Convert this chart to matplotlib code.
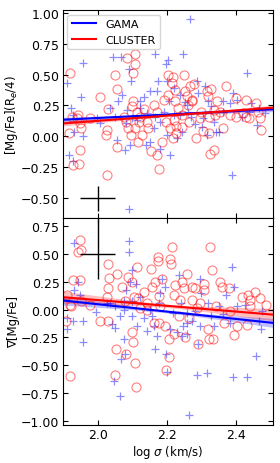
#Mg/Fe versus velocity dispersion, GAMA vs CLUSTER
import matplotlib.pyplot as plt
import numpy as np

# top panel: [Mg/Fe](Re/4)
gama_top_x = [2.265, 1.911, 1.957, 1.952, 1.916, 1.930, 1.924, 1.928, 1.933, 1.958,
              2.044, 2.067, 2.089, 2.097, 2.070, 2.060, 2.085, 2.051, 2.056, 2.080,
              2.094, 2.091, 2.164, 2.197, 2.203, 2.175, 2.200, 2.152, 2.171, 2.135,
              2.121, 2.123, 2.142, 2.166, 2.190, 2.181, 2.162, 2.152, 2.138, 2.181,
              2.210, 2.245, 2.219, 2.238, 2.252, 2.262, 2.270, 2.287, 2.309, 2.290,
              2.317, 2.327, 2.305, 2.282, 2.300, 2.315, 2.340, 2.335, 2.350, 2.362,
              2.363, 2.383, 2.390, 2.402, 2.431, 2.436, 2.415, 2.442, 2.466, 2.461,
              2.482, 2.388, 2.229, 2.243, 2.200, 2.100, 2.113, 2.037, 2.008, 1.998,
              2.083, 2.205, 2.219, 2.238, 2.257]
gama_top_y = [0.948, 0.432, 0.590, 0.315, -0.147, -0.200, 0.228, 0.174, 0.038, 0.003,
              0.644, 0.641, 0.541, 0.446, 0.337, 0.283, 0.215, 0.160, -0.030, -0.110,
              -0.070, -0.587, 0.668, 0.581, 0.614, 0.451, 0.446, 0.364, 0.370, 0.315,
              0.283, 0.228, 0.187, 0.160, 0.201, 0.120, 0.065, -0.043, -0.070, -0.098,
              -0.152, 0.668, 0.391, 0.331, 0.277, 0.201, 0.160, 0.446, 0.405, 0.350,
              0.283, 0.242, 0.147, 0.098, 0.079, 0.011, 0.033, 0.120, 0.038, 0.283,
              0.201, 0.269, 0.350, 0.296, 0.511, 0.201, 0.160, 0.269, 0.228, 0.092,
              0.187, -0.315, -0.016, 0.038, 0.011, 0.147, 0.133, 0.228, 0.106, 0.147,
              0.106, 0.283, 0.174, 0.174, 0.255]
clus_top_x = [1.921, 1.916, 1.926, 1.942, 1.940, 1.930, 1.947, 1.950, 1.950, 1.953,
              1.979, 2.008, 2.027, 2.025, 2.029, 2.027, 2.051, 2.056, 2.057, 2.085,
              2.109, 2.107, 2.102, 2.102, 2.100, 2.075, 2.083, 2.087, 2.097, 2.109,
              2.114, 2.117, 2.119, 2.123, 2.133, 2.142, 2.146, 2.153, 2.171, 2.176,
              2.186, 2.197, 2.203, 2.203, 2.215, 2.218, 2.222, 2.224, 2.210, 2.218,
              2.219, 2.227, 2.233, 2.243, 2.248, 2.252, 2.257, 2.260, 2.264, 2.267,
              2.271, 2.273, 2.277, 2.285, 2.298, 2.294, 2.303, 2.315, 2.319, 2.320,
              2.323, 2.326, 2.335, 2.339, 2.354, 2.369, 2.363, 2.383, 2.398, 2.400,
              2.418, 2.429, 2.429, 2.437, 2.458, 2.462, 2.467, 2.470, 2.335, 2.320,
              2.344, 2.243, 2.227, 2.190, 2.171, 2.162, 2.128]
clus_top_y = [0.514, 0.024, 0.160, 0.174, 0.147, -0.234, -0.220, -0.111, 0.106, 0.071,
              0.147, 0.315, 0.052, 0.011, 0.223, -0.315, 0.494, 0.386, -0.084, 0.636,
              0.663, 0.587, 0.514, 0.288, 0.242, 0.160, 0.120, 0.065, 0.011, 0.065,
              0.201, -0.043, 0.120, 0.160, 0.220, 0.120, 0.065, -0.120, -0.152, -0.261,
              -0.043, 0.120, 0.494, 0.337, 0.432, 0.478, 0.378, 0.283, 0.065, -0.016,
              0.133, 0.084, 0.228, 0.174, 0.494, 0.364, 0.323, 0.255, 0.120, 0.405,
              0.283, 0.296, 0.424, -0.016, 0.201, 0.147, 0.043, 0.364, 0.323, 0.160,
              -0.139, 0.386, 0.215, 0.174, 0.201, 0.405, 0.065, 0.174, 0.310, 0.160,
              0.187, 0.296, 0.160, 0.147, 0.269, 0.201, 0.147, 0.052, -0.111, 0.024,
              0.283, 0.079, 0.024, 0.296, 0.201, 0.255, 0.011]

# bottom panel: gradient of [Mg/Fe]
gama_bot_x = [2.089, 2.089, 1.933, 1.943, 1.933, 1.911, 1.911, 1.928, 1.958, 1.958,
              1.950, 1.996, 2.041, 2.051, 2.046, 2.065, 2.067, 2.080, 2.075, 2.065,
              2.076, 2.075, 2.083, 2.093, 2.099, 2.111, 2.123, 2.114, 2.133, 2.142,
              2.152, 2.164, 2.171, 2.176, 2.181, 2.186, 2.193, 2.197, 2.200, 2.210,
              2.218, 2.234, 2.239, 2.246, 2.258, 2.263, 2.272, 2.282, 2.287, 2.290,
              2.294, 2.299, 2.315, 2.317, 2.327, 2.335, 2.349, 2.363, 2.370, 2.383,
              2.388, 2.392, 2.390, 2.402, 2.425, 2.430, 2.456, 2.466, 2.472, 2.474,
              2.243, 2.229, 2.162, 2.157, 2.099, 2.099, 2.036, 2.051, 2.027, 2.258,
              2.294, 2.258]
gama_bot_y = [0.618, 0.515, 0.603, 0.250, 0.176, -0.176, -0.074, -0.103, -0.103, -0.294,
              0.132, -0.024, -0.132, -0.162, -0.647, -0.779, -0.441, -0.397, -0.265, -0.059,
              0.000, 0.074, 0.176, 0.250, 0.353, 0.235, 0.118, -0.147, -0.074, -0.191,
              0.000, -0.353, -0.235, 0.059, 0.147, 0.279, 0.206, -0.397, -0.559, -0.176,
              -0.029, 0.309, 0.059, -0.147, -0.029, -0.947, -0.103, -0.015, -0.588, -0.309,
              0.279, 0.147, -0.574, 0.059, -0.059, -0.147, 0.029, -0.044, 0.132, -0.118,
              0.382, 0.206, -0.612, 0.029, 0.044, -0.612, -0.418, -0.103, -0.176, -0.015,
              -0.235, -0.206, -0.147, -0.059, -0.059, 0.074, 0.059, 0.029, 0.059, -0.221,
              -0.147, -0.118]
clus_bot_x = [1.950, 1.943, 1.952, 1.930, 1.948, 1.911, 1.921, 1.924, 1.909, 1.921,
              1.953, 1.979, 2.008, 2.029, 2.029, 2.032, 2.029, 2.027, 2.054, 2.051,
              2.056, 2.070, 2.080, 2.083, 2.099, 2.102, 2.109, 2.111, 2.114, 2.087,
              2.099, 2.104, 2.115, 2.123, 2.135, 2.157, 2.155, 2.166, 2.174, 2.173,
              2.176, 2.181, 2.186, 2.197, 2.207, 2.210, 2.212, 2.215, 2.219, 2.222,
              2.219, 2.205, 2.234, 2.248, 2.243, 2.258, 2.253, 2.263, 2.272, 2.280,
              2.287, 2.290, 2.294, 2.306, 2.308, 2.317, 2.320, 2.323, 2.330, 2.333,
              2.340, 2.354, 2.358, 2.365, 2.380, 2.382, 2.392, 2.402, 2.415, 2.431,
              2.435, 2.440, 2.453, 2.469, 2.487, 2.439, 2.272, 2.238, 2.142, 2.162,
              2.193, 2.142, 2.176]
clus_bot_y = [0.632, 0.515, 0.535, 0.271, 0.265, 0.132, 0.044, 0.029, -0.103, -0.603,
              0.082, 0.038, -0.103, -0.103, 0.412, 0.288, 0.191, 0.118, -0.359, -0.588,
              0.324, 0.206, 0.074, -0.397, -0.206, -0.294, -0.485, -0.697, 0.382, 0.294,
              0.250, 0.118, 0.103, 0.015, 0.162, 0.206, 0.368, 0.250, 0.476, 0.441,
              0.126, 0.029, 0.279, -0.544, -0.426, 0.456, 0.412, 0.565, 0.132, 0.221,
              -0.221, -0.265, -0.059, 0.191, 0.250, 0.324, -0.250, -0.074, 0.088, 0.191,
              0.015, -0.309, 0.059, 0.235, 0.176, -0.176, -0.265, 0.565, 0.353, -0.265,
              0.029, 0.250, 0.206, -0.118, 0.191, -0.015, -0.229, -0.147, 0.118, -0.141,
              0.132, 0.088, 0.162, 0.103, 0.044, 0.029, 0.206, 0.088, 0.059, -0.118,
              -0.147, 0.000, -0.118]

# linear fits: (value at log sigma = 1.9, slope), band half-width (centre, edge)
fit_top = {"GAMA": (0.135, 0.14, 0.008, 0.02), "CLUSTER": (0.105, 0.21, 0.008, 0.02)}
fit_bot = {"GAMA": (0.082, -0.333, 0.012, 0.04), "CLUSTER": (0.112, -0.26, 0.015, 0.055)}

colors = {"GAMA": "blue", "CLUSTER": "red"}

fig = plt.figure(figsize=(2.8, 4.64), dpi=100)
gs = fig.add_gridspec(2, 1, left=0.225, right=0.974, top=0.976, bottom=0.082, hspace=0)
ax1 = fig.add_subplot(gs[0])
ax2 = fig.add_subplot(gs[1], sharex=ax1)

xx = np.linspace(1.9, 2.51, 100)

def draw_fits(ax, fits):
    for name, (y0, m, w0, w1) in fits.items():
        yy = y0 + m * (xx - 1.9)
        half = np.sqrt(w0 ** 2 + (w1 ** 2 - w0 ** 2) * ((xx - 2.2) / 0.3) ** 2)
        ax.fill_between(xx, yy - half, yy + half, color=colors[name], alpha=0.25, lw=0)
        ax.plot(xx, yy, color=colors[name], lw=1.5, label=name)

ax1.plot(gama_top_x, gama_top_y, "+", color="blue", alpha=0.45, ms=6, mew=0.9)
ax1.plot(clus_top_x, clus_top_y, "o", mfc="none", mec="red", alpha=0.5, ms=6.5, mew=0.8)
draw_fits(ax1, fit_top)
ax1.errorbar(2.0, -0.5, xerr=0.05, yerr=0.1, color="black", lw=1, capsize=0)

ax2.plot(gama_bot_x, gama_bot_y, "+", color="blue", alpha=0.45, ms=6, mew=0.9)
ax2.plot(clus_bot_x, clus_bot_y, "o", mfc="none", mec="red", alpha=0.5, ms=6.5, mew=0.8)
draw_fits(ax2, fit_bot)
ax2.errorbar(2.0, 0.5, xerr=0.05, yerr=[[0.22], [0.4]], color="black", lw=1, capsize=0)

ax1.set_xlim(1.9, 2.505)
ax1.set_ylim(-0.655, 1.02)
ax2.set_ylim(-1.04, 0.83)
ax1.set_yticks([-0.5, -0.25, 0, 0.25, 0.5, 0.75, 1.0])
ax2.set_yticks([-1.0, -0.75, -0.5, -0.25, 0, 0.25, 0.5, 0.75])
ax2.set_xticks([2.0, 2.2, 2.4])

for ax in (ax1, ax2):
    ax.tick_params(direction="in", top=True, right=True, labelsize=9, length=3.5, pad=2.5)
ax1.tick_params(labelbottom=False)

ax1.set_ylabel("[Mg/Fe](R$_e$/4)", fontsize=8.5, labelpad=1)
ax2.set_ylabel("∇[Mg/Fe]", fontsize=8.5, labelpad=1)
ax2.set_xlabel("log $\\sigma$ (km/s)", fontsize=8.5, labelpad=1)
ax1.legend(loc="upper left", fontsize=8, handlelength=2.2, borderaxespad=0.4)

fig.align_ylabels([ax1, ax2])
plt.savefig("out.png", dpi=100)
